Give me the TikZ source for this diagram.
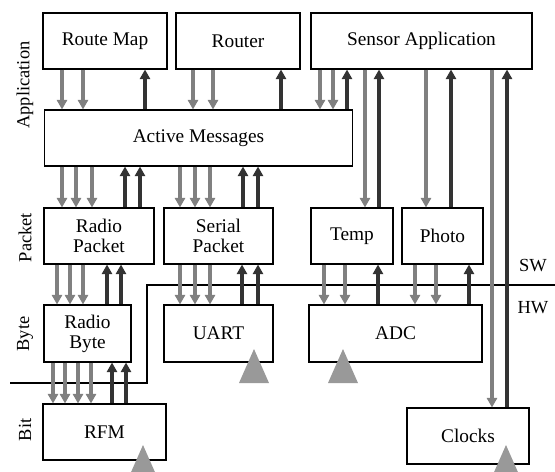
\documentclass[tikz,border=0pt]{standalone}
\usepackage{fontspec}
\setmainfont{Liberation Serif}
\usepackage{tikz}
\usetikzlibrary{arrows.meta}
\definecolor{upCol}{HTML}{333333}
\definecolor{downCol}{HTML}{808080}
\definecolor{clkCol}{HTML}{999999}
\tikzset{
  blk/.style n args={2}{draw, line width=0.6pt, align=center,
        font=\fontsize{11}{11.5}\selectfont, inner sep=1pt,
        minimum width=#1, minimum height=#2},
  lvl/.style={rotate=90, font=\fontsize{10.5}{12}\selectfont, inner sep=0pt},
  side/.style={font=\fontsize{10.5}{12}\selectfont, inner sep=0pt},
  dnarr/.style={draw=downCol, line width=2.3pt, -{Triangle[width=5.8pt,length=5.5pt]}},
  uparr/.style={draw=upCol, line width=2.5pt, -{Triangle[width=5.8pt,length=5.5pt]}},
  clk/.style={fill=clkCol},
}
\newcommand\clocktri[2]{\fill[clk] (#1,#2) -- ++(-15,34) -- ++(30,0) -- cycle;}

\begin{document}
\begin{tikzpicture}[x=0.02cm, y=-0.02cm]
  \clip (0,0) rectangle (555,471);
  % application layer
  \node[blk={2.48cm}{1.12cm}] (rm)     at (105,41)    {Route Map};
  \node[blk={2.48cm}{1.12cm}] (router) at (238,41)    {Router};
  \node[blk={4.42cm}{1.12cm}] (sens)   at (421.5,41)  {Sensor Application};
  \node[blk={6.18cm}{1.12cm}] (am)     at (198.5,138) {Active Messages};
  % packet layer
  \node[blk={2.2cm}{1.12cm}]  (rpkt)   at (99,236)    {Radio\\Packet};
  \node[blk={2.18cm}{1.12cm}] (spkt)   at (218.5,236) {Serial\\Packet};
  \node[blk={1.64cm}{1.12cm}] (temp)   at (352,236)   {Temp};
  \node[blk={1.62cm}{1.12cm}] (photo)  at (442.5,236) {Photo};
  % byte layer
  \node[blk={1.74cm}{1.14cm}] (rbyte)  at (87.5,333.5)  {Radio\\Byte};
  \node[blk={2.18cm}{1.14cm}] (uart)   at (218.5,333.5) {UART};
  \node[blk={3.46cm}{1.14cm}] (adc)    at (395.5,333.5) {ADC};
  % bit layer
  \node[blk={2.46cm}{1.12cm}] (rfm)    at (104.5,432) {RFM};
  \node[blk={2.44cm}{1.12cm}] (clocks) at (468,436)   {Clocks};
  % layer names
  \node[lvl] (lapp)  at (25,85)    {Application};
  \node[lvl] (lpkt)  at (25,237.5) {Packet};
  \node[lvl] (lbyte) at (25,334)   {Byte};
  \node[lvl] (lbit)  at (25,430)   {Bit};
  \node[side] (sw) at (533,266) {SW};
  \node[side] (hw) at (533,308) {HW};
  % SW/HW boundary
  \draw[line width=0.6pt] (10,383) -- (147,383) -- (147,285) -- (555,285);
  % clock inputs
  \clocktri{143}{445}
  \clocktri{254}{349}
  \clocktri{343}{349}
  \clocktri{506}{445}
  % application -> active messages
  \draw[dnarr] (rm.south -| 62,0)  -- (am.north -| 62,0);
  \draw[dnarr] (rm.south -| 83,0)  -- (am.north -| 83,0);
  \draw[uparr] (am.north -| 145,0) -- (rm.south -| 145,0);
  \draw[dnarr] (router.south -| 193,0) -- (am.north -| 193,0);
  \draw[dnarr] (router.south -| 213,0) -- (am.north -| 213,0);
  \draw[uparr] (am.north -| 281,0)     -- (router.south -| 281,0);
  \draw[dnarr] (sens.south -| 320,0) -- (am.north -| 320,0);
  \draw[dnarr] (sens.south -| 333,0) -- (am.north -| 333,0);
  \draw[uparr] (am.north -| 347,0)   -- (sens.south -| 347,0);
  % sensor application -> sensors and clocks
  \draw[dnarr] (sens.south -| 365,0)  -- (temp.north -| 365,0);
  \draw[uparr] (temp.north -| 379,0)  -- (sens.south -| 379,0);
  \draw[dnarr] (sens.south -| 426,0)  -- (photo.north -| 426,0);
  \draw[uparr] (photo.north -| 451,0) -- (sens.south -| 451,0);
  \draw[dnarr] (sens.south -| 492,0)   -- (clocks.north -| 492,0);
  \draw[uparr] (clocks.north -| 507,0) -- (sens.south -| 507,0);
  % active messages -> packets
  \draw[dnarr] (am.south -| 62,0)    -- (rpkt.north -| 62,0);
  \draw[dnarr] (am.south -| 76,0)    -- (rpkt.north -| 76,0);
  \draw[dnarr] (am.south -| 92,0)    -- (rpkt.north -| 92,0);
  \draw[uparr] (rpkt.north -| 125,0) -- (am.south -| 125,0);
  \draw[uparr] (rpkt.north -| 140,0) -- (am.south -| 140,0);
  \draw[dnarr] (am.south -| 180,0)   -- (spkt.north -| 180,0);
  \draw[dnarr] (am.south -| 195,0)   -- (spkt.north -| 195,0);
  \draw[dnarr] (am.south -| 210,0)   -- (spkt.north -| 210,0);
  \draw[uparr] (spkt.north -| 243,0) -- (am.south -| 243,0);
  \draw[uparr] (spkt.north -| 258,0) -- (am.south -| 258,0);
  % packets -> bytes
  \draw[dnarr] (rpkt.south -| 57,0)   -- (rbyte.north -| 57,0);
  \draw[dnarr] (rpkt.south -| 70,0)   -- (rbyte.north -| 70,0);
  \draw[dnarr] (rpkt.south -| 83,0)   -- (rbyte.north -| 83,0);
  \draw[uparr] (rbyte.north -| 107,0) -- (rpkt.south -| 107,0);
  \draw[uparr] (rbyte.north -| 121,0) -- (rpkt.south -| 121,0);
  \draw[dnarr] (spkt.south -| 180,0)  -- (uart.north -| 180,0);
  \draw[dnarr] (spkt.south -| 195,0)  -- (uart.north -| 195,0);
  \draw[dnarr] (spkt.south -| 210,0)  -- (uart.north -| 210,0);
  \draw[uparr] (uart.north -| 242,0)  -- (spkt.south -| 242,0);
  \draw[uparr] (uart.north -| 258,0)  -- (spkt.south -| 258,0);
  \draw[dnarr] (temp.south -| 324,0)  -- (adc.north -| 324,0);
  \draw[dnarr] (temp.south -| 345,0)  -- (adc.north -| 345,0);
  \draw[uparr] (adc.north -| 378,0)   -- (temp.south -| 378,0);
  \draw[dnarr] (photo.south -| 415,0) -- (adc.north -| 415,0);
  \draw[dnarr] (photo.south -| 436,0) -- (adc.north -| 436,0);
  \draw[uparr] (adc.north -| 469,0)   -- (photo.south -| 469,0);
  % bytes -> bits
  \draw[dnarr] (rbyte.south -| 53,0) -- (rfm.north -| 53,0);
  \draw[dnarr] (rbyte.south -| 65,0) -- (rfm.north -| 65,0);
  \draw[dnarr] (rbyte.south -| 78,0) -- (rfm.north -| 78,0);
  \draw[dnarr] (rbyte.south -| 91,0) -- (rfm.north -| 91,0);
  \draw[uparr] (rfm.north -| 112,0)  -- (rbyte.south -| 112,0);
  \draw[uparr] (rfm.north -| 126,0)  -- (rbyte.south -| 126,0);
\end{tikzpicture}
\end{document}
